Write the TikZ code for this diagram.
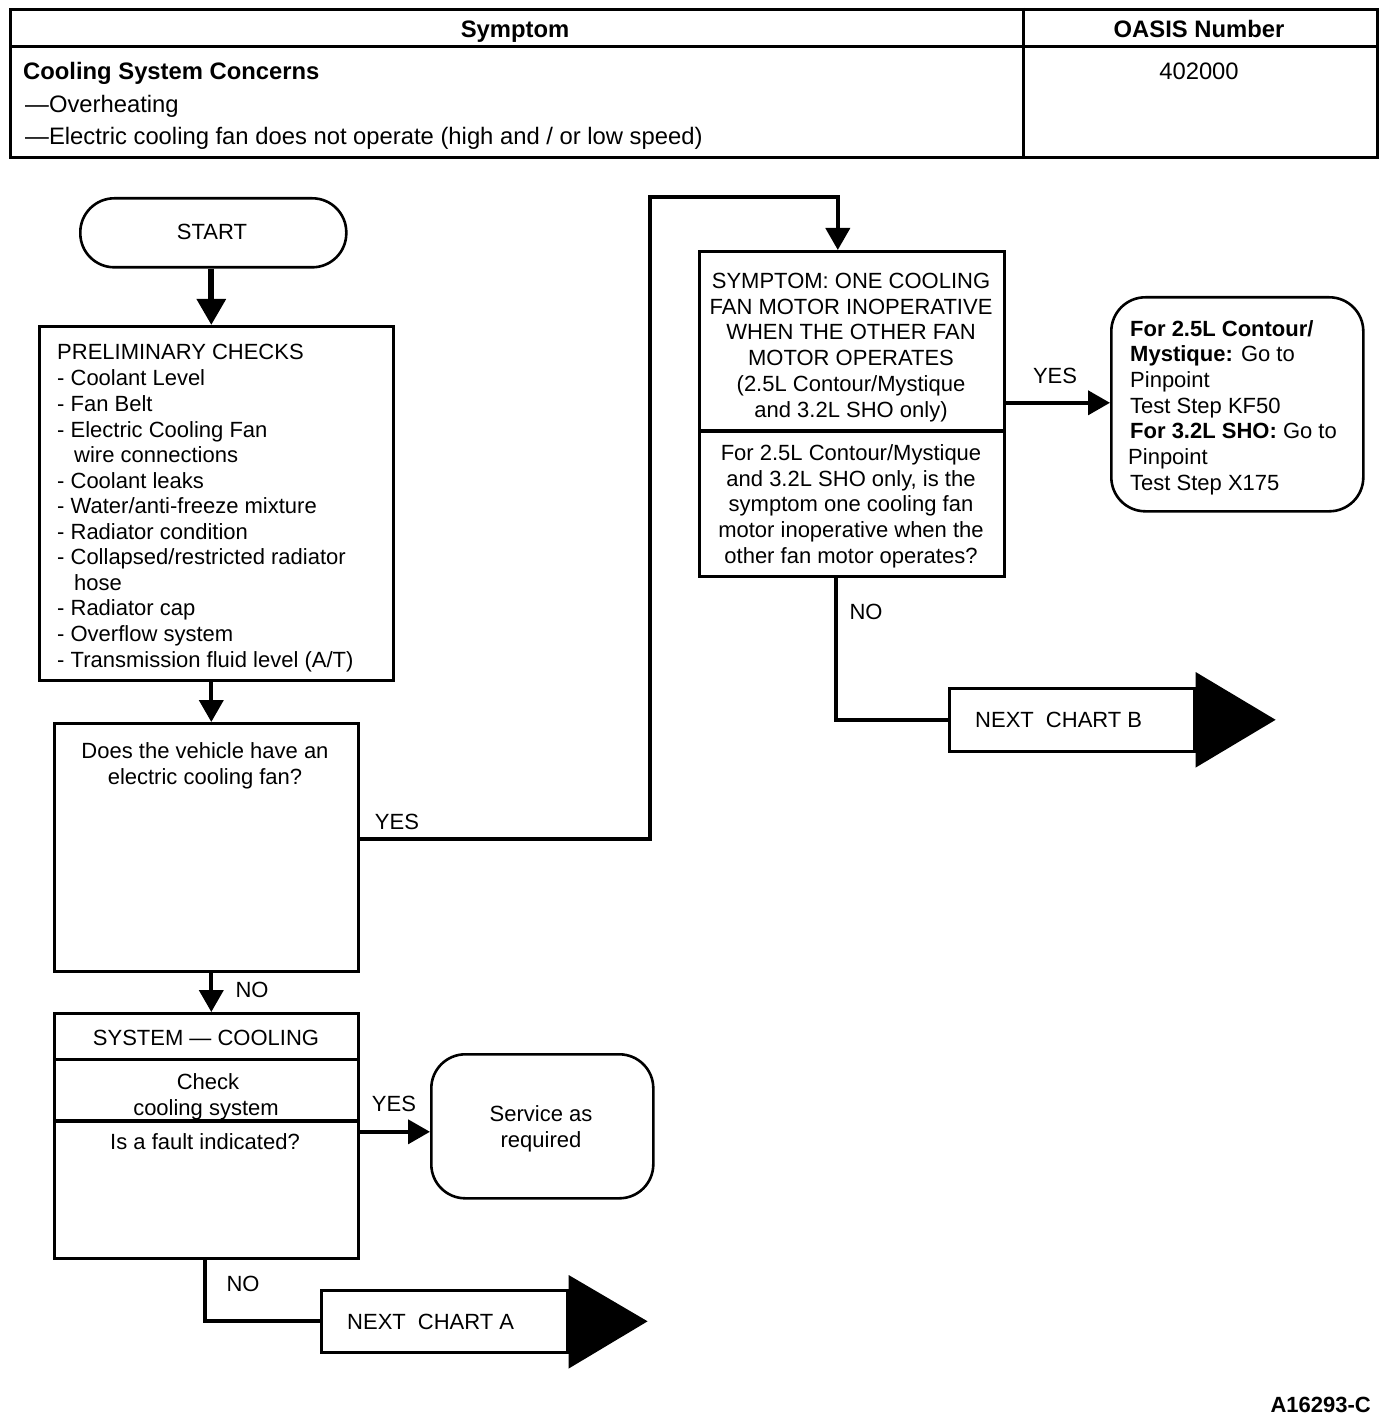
\documentclass[tikz,border=0pt]{standalone}
\usepackage{fontspec}
\setmainfont{Liberation Sans}
\usetikzlibrary{arrows.meta}
\tikzset{
  txt/.style={inner sep=0pt, font=\fontsize{22}{25.7}\selectfont},
  htxt/.style={inner sep=0pt, font=\fontsize{23.8}{27}\selectfont},
  hbold/.style={inner sep=0pt, font=\fontsize{23.8}{27}\selectfont\bfseries},
  boxw/.style={draw, line width=2.6pt, inner sep=0pt, anchor=north west},
  rbox/.style={boxw, rounded corners=34pt},
  conn/.style={line width=4pt, -{Triangle[width=24pt,length=22pt]}},
  bigarr/.style={line width=6pt, -{Triangle[width=28pt,length=26pt]}},
  plain/.style={line width=4pt},
  lbl/.style={txt, anchor=base},
}
\begin{document}
\begin{tikzpicture}[x=1pt,y=-1pt]
\useasboundingbox (0,0) rectangle (1392,1420);
% header table
\node[boxw, line width=3pt, minimum width=1367pt, minimum height=148pt] (tbl) at (9,8) {};
\draw[line width=3pt] (tbl.north west |- 0,47) -- (tbl.north east |- 0,47);
\draw[line width=3pt] (1023,8) -- (1023,156);
\node[hbold, anchor=base] (hsym) at (515,38) {Symptom};
\node[hbold, anchor=base] (hoas) at (1199,38) {OASIS Number};
\node[hbold, anchor=base west] (hc1) at (23,80) {Cooling System Concerns};
\node[htxt, anchor=base west] (hc2) at (25,113) {—Overheating};
\node[htxt, anchor=base west] (hc3) at (25,145) {—Electric cooling fan does not operate (high and / or low speed)};
\node[htxt, anchor=base] (hnum) at (1199,80) {402000};

% START
\node[rbox, minimum width=266pt, minimum height=69pt] (start) at (79,197) {};
\node[lbl] (startt) at (212,240) {START};

% preliminary checks
\node[boxw, minimum width=354pt, minimum height=354pt] (prelim) at (38,325) {};
\node[txt, anchor=base west] (p1) at (57,359) {PRELIMINARY CHECKS};
\node[txt, anchor=base west] (p2) at (57,385) {- Coolant Level};
\node[txt, anchor=base west] (p3) at (57,411) {- Fan Belt};
\node[txt, anchor=base west] (p4) at (57,437) {- Electric Cooling Fan};
\node[txt, anchor=base west] (p5) at (74,462) {wire connections};
\node[txt, anchor=base west] (p6) at (57,488) {- Coolant leaks};
\node[txt, anchor=base west] (p7) at (57,513) {- Water/anti-freeze mixture};
\node[txt, anchor=base west] (p8) at (57,539) {- Radiator condition};
\node[txt, anchor=base west] (p9) at (57,564) {- Collapsed/restricted radiator};
\node[txt, anchor=base west] (p10) at (74,590) {hose};
\node[txt, anchor=base west] (p11) at (57,615) {- Radiator cap};
\node[txt, anchor=base west] (p12) at (57,641) {- Overflow system};
\node[txt, anchor=base west] (p13) at (57,667) {- Transmission fluid level (A/T)};

% question
\node[boxw, minimum width=304pt, minimum height=248pt] (q) at (53,722) {};
\node[lbl] (q1) at (205,758) {Does the vehicle have an};
\node[lbl] (q2) at (205,784) {electric cooling fan?};

% symptom box
\node[boxw, minimum width=305pt, minimum height=325pt] (s) at (698,250) {};
\draw[line width=4pt] (s.west |- 0,431) -- (s.east |- 0,431);
\node[lbl] (s1) at (851,289) {SYMPTOM: ONE COOLING};
\node[lbl] (s2) at (851,314) {FAN MOTOR INOPERATIVE};
\node[lbl] (s3) at (851,339) {WHEN THE OTHER FAN};
\node[lbl] (s4) at (851,365) {MOTOR OPERATES};
\node[lbl] (s5) at (851,391) {(2.5L Contour/Mystique};
\node[lbl] (s6) at (851,417) {and 3.2L SHO only)};
\node[lbl] (s7) at (851,460) {For 2.5L Contour/Mystique};
\node[lbl] (s8) at (851,486) {and 3.2L SHO only, is the};
\node[lbl] (s9) at (851,511) {symptom one cooling fan};
\node[lbl] (s10) at (851,537) {motor inoperative when the};
\node[lbl] (s11) at (851,563) {other fan motor operates?};

% pinpoint box
\node[rbox, minimum width=252pt, minimum height=214pt] (pp) at (1110,296) {};
\node[txt, anchor=base west] (pp1) at (1130,336) {\bfseries For 2.5L Contour/};
\node[txt, anchor=base west] (pp2) at (1130,361) {\textbf{Mystique:} Go to};
\node[txt, anchor=base west] (pp3) at (1130,387) {Pinpoint};
\node[txt, anchor=base west] (pp4) at (1130,413) {Test Step KF50};
\node[txt, anchor=base west] (pp5) at (1130,438) {\textbf{For 3.2L SHO:} Go to};
\node[txt, anchor=base west] (pp6) at (1128,464) {Pinpoint};
\node[txt, anchor=base west] (pp7) at (1130,490) {Test Step X175};

% next chart B
\node[boxw, minimum width=245pt, minimum height=63pt] (nb) at (948,687) {};
\node[txt, anchor=base west] (nbt) at (975,727) {NEXT\hspace{0.55em}CHART B};
\fill ([yshift=15pt]nb.north east) -- ([yshift=-15pt]nb.south east) -- ([xshift=80pt]nb.east) -- cycle;

% system cooling
\node[boxw, minimum width=304pt, minimum height=245pt] (sys) at (53,1012) {};
\draw[line width=3pt] (sys.west |- 0,1059) -- (sys.east |- 0,1059);
\draw[line width=4pt] (sys.west |- 0,1121) -- (sys.east |- 0,1121);
\node[lbl] (sy1) at (206,1045) {SYSTEM — COOLING};
\node[lbl] (sy2) at (208,1089) {Check};
\node[lbl] (sy3) at (206,1115) {cooling system};
\node[lbl] (sy4) at (205,1149) {Is a fault indicated?};

% service
\node[rbox, minimum width=222pt, minimum height=144pt] (serv) at (430,1053) {};
\node[lbl] (sv1) at (541,1121) {Service as};
\node[lbl] (sv2) at (541,1147) {required};

% next chart A
\node[boxw, minimum width=246pt, minimum height=62pt] (na) at (320,1289) {};
\node[txt, anchor=base west] (nat) at (347,1329) {NEXT\hspace{0.55em}CHART A};
\fill ([yshift=14pt]na.north east) -- ([yshift=-15pt]na.south east) -- ([xshift=79pt]na.east) -- cycle;

% connectors
\draw[bigarr] ([xshift=-2pt]start.south) -- ([xshift=-2pt]start.south |- prelim.north);
\draw[conn] ([xshift=-5pt]prelim.south) -- ([xshift=-5pt]prelim.south |- q.north);
\draw[conn] ([xshift=5pt]q.south) -- ([xshift=5pt]sys.north);
\draw[conn] ([yshift=8pt]q.east) -| (650,197) -| ([xshift=-14pt]s.north);
\draw[conn] ([yshift=11pt]s.east) -- ([yshift=11pt]s.east -| pp.west);
\draw[plain] ([xshift=-16pt]s.south) |- (nb.west);
\draw[conn] ([yshift=4pt]sys.east) -- ([yshift=4pt]sys.east -| serv.west);
\draw[plain] ([xshift=-1pt]sys.south) |- (na.west);

% labels
\node[lbl] (yes1) at (397,829) {YES};
\node[lbl] (yes2) at (1055,383) {YES};
\node[lbl] (no1) at (866,619) {NO};
\node[lbl] (no2) at (252,997) {NO};
\node[lbl] (yes3) at (394,1111) {YES};
\node[lbl] (no3) at (243,1291) {NO};
\node[txt, anchor=base east, font=\fontsize{22}{25.7}\selectfont\bfseries] (code) at (1371,1412) {A16293-C};
\end{tikzpicture}
\end{document}
